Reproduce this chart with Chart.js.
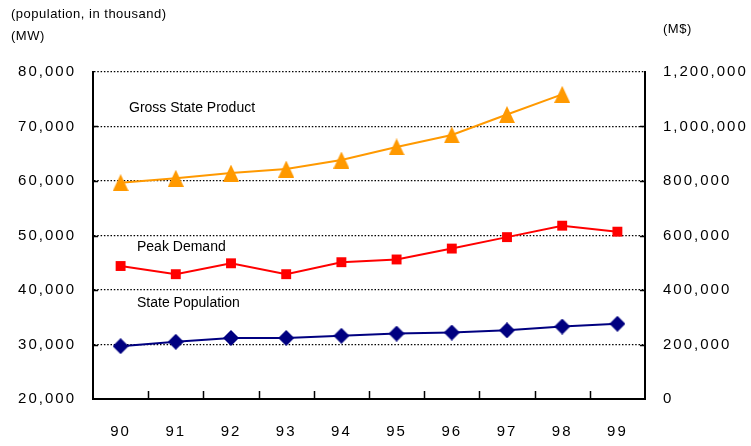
<!DOCTYPE html>
<html>
<head>
<meta charset="utf-8">
<script src="https://cdn.jsdelivr.net/npm/chart.js@4/dist/chart.umd.min.js"></script>
<style>
  html, body { margin: 0; padding: 0; background: #fff; }
  #wrap { width: 751px; height: 446px; position: relative; }
</style>
</head>
<body>
<div id="wrap"><canvas id="chart"></canvas></div>
<script>
const years = ["90", "91", "92", "93", "94", "95", "96", "97", "98", "99"];

// MW, left axis
const peakDemand = [44400, 42900, 44900, 42900, 45100, 45600, 47600, 49700, 51800, 50700];
// thousand people, left axis
const statePopulation = [29700, 30500, 31200, 31200, 31600, 32000, 32200, 32600, 33300, 33800];
// M$, right axis
const grossStateProduct = [794000, 810000, 829000, 844000, 877000, 925000, 969000, 1044000, 1118000, null];

const leftTicks = { min: 20000, max: 80000, step: 10000 };
const rightTicks = { min: 0, max: 1200000, step: 200000 };

const seriesLabels = [
  { text: "Gross State Product", x: 129, y: 108 },
  { text: "Peak Demand", x: 137, y: 247 },
  { text: "State Population", x: 137, y: 303 }
];

const fmt = v => v.toLocaleString("en-US");

// Excel-like markers
function marker(shape, w, h, color) {
  const c = document.createElement("canvas");
  c.width = w;
  c.height = h;
  const g = c.getContext("2d");
  g.fillStyle = color;
  g.beginPath();
  if (shape === "triangle") {
    g.moveTo(w / 2, 0);
    g.lineTo(w, h);
    g.lineTo(0, h);
  } else {
    g.moveTo(w / 2, 0);
    g.lineTo(w, h / 2);
    g.lineTo(w / 2, h);
    g.lineTo(0, h / 2);
  }
  g.closePath();
  g.fill();
  return c;
}

const textPlugin = {
  id: "textPlugin",
  beforeDraw(chart) {
    // spacing on the y axis numbers
    chart.ctx.letterSpacing = "2px";
  },
  afterDatasetsDraw(chart) {
    // x axis is drawn after this (z: 1)
    chart.ctx.letterSpacing = "1px";
  },
  afterDraw(chart) {
    const ctx = chart.ctx;
    const { left, right, bottom } = chart.chartArea;
    const x = chart.scales.x;
    const y = chart.scales.y;
    ctx.save();
    ctx.letterSpacing = "0px";
    ctx.strokeStyle = "#000";
    ctx.lineWidth = 1.5;
    ctx.beginPath();
    // inward tick marks on the bottom axis, between categories
    for (let i = 1; i < years.length; i++) {
      const px = Math.round((x.getPixelForValue(i - 1) + x.getPixelForValue(i)) / 2) + 0.5;
      ctx.moveTo(px, bottom);
      ctx.lineTo(px, bottom - 8);
    }
    // inward tick marks on both side axes
    for (let v = leftTicks.min + leftTicks.step; v < leftTicks.max; v += leftTicks.step) {
      const py = Math.round(y.getPixelForValue(v)) + 0.5;
      ctx.moveTo(left, py);
      ctx.lineTo(left + 5, py);
      ctx.moveTo(right, py);
      ctx.lineTo(right - 5, py);
    }
    ctx.stroke();

    ctx.fillStyle = "#000";
    ctx.textBaseline = "middle";
    ctx.textAlign = "left";
    ctx.letterSpacing = "0.5px";
    ctx.font = "13px 'Liberation Sans', Arial, sans-serif";
    ctx.fillText("(population, in thousand)", 11, 14);
    ctx.fillText("(MW)", 11, 36);
    ctx.fillText("(M$)", 663, 29);
    ctx.letterSpacing = "0px";
    ctx.font = "14px 'Liberation Sans', Arial, sans-serif";
    seriesLabels.forEach(l => ctx.fillText(l.text, l.x, l.y));
    ctx.restore();
  }
};

const tickFont = { family: "'Liberation Sans', Arial, sans-serif", size: 15 };

new Chart(document.getElementById("chart"), {
  type: "line",
  data: {
    labels: years,
    datasets: [
      {
        label: "Gross State Product",
        data: grossStateProduct,
        yAxisID: "y2",
        borderColor: "#FF9900",
        backgroundColor: "#FF9900",
        borderWidth: 2,
        pointStyle: marker("triangle", 16, 17, "#FF9900"),
        pointRadius: 9,
        tension: 0
      },
      {
        label: "Peak Demand",
        data: peakDemand,
        yAxisID: "y",
        borderColor: "#FF0000",
        backgroundColor: "#FF0000",
        borderWidth: 2,
        pointStyle: "rect",
        pointRadius: 7,
        pointBorderWidth: 0,
        tension: 0
      },
      {
        label: "State Population",
        data: statePopulation,
        yAxisID: "y",
        borderColor: "#000080",
        backgroundColor: "#000080",
        borderWidth: 2,
        pointStyle: marker("diamond", 16, 16, "#000080"),
        pointRadius: 8,
        tension: 0
      }
    ]
  },
  options: {
    responsive: true,
    maintainAspectRatio: false,
    animation: false,
    layout: { padding: { top: 72, left: 0, right: 0, bottom: 0 } },
    plugins: {
      legend: { display: false },
      tooltip: { enabled: false }
    },
    scales: {
      x: {
        offset: true,
        z: 1,
        grid: { display: false, drawTicks: false },
        border: { display: true, color: "#000", width: 2 },
        ticks: { color: "#000", font: tickFont, padding: 24, maxRotation: 0 },
        afterFit: s => { s.height = 47; }
      },
      y: {
        position: "left",
        min: leftTicks.min,
        max: leftTicks.max,
        grid: { color: "#000", lineWidth: 1.3, drawTicks: false },
        border: { display: true, color: "#000", width: 2, dash: [1.5, 1.8] },
        ticks: { stepSize: leftTicks.step, color: "#000", font: tickFont, padding: 17, callback: v => fmt(v) },
        afterFit: s => { s.width = 93; }
      },
      y2: {
        position: "right",
        min: rightTicks.min,
        max: rightTicks.max,
        grid: { display: false, drawTicks: false },
        border: { display: true, color: "#000", width: 2 },
        ticks: { stepSize: rightTicks.step, color: "#000", font: tickFont, padding: 18, callback: v => fmt(v) },
        afterFit: s => { s.width = 106; }
      }
    }
  },
  plugins: [textPlugin]
});
</script>
</body>
</html>
